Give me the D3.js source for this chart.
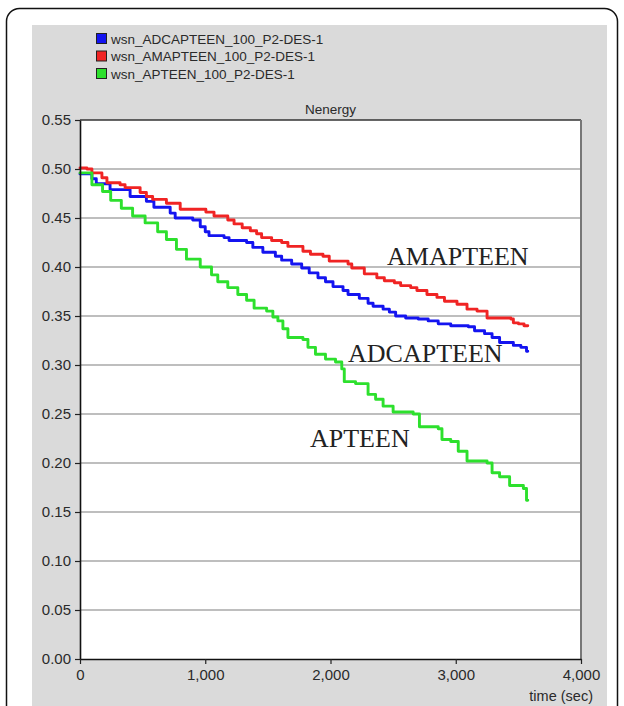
<!DOCTYPE html>
<html>
<head>
<meta charset="utf-8">
<script src="https://cdn.jsdelivr.net/npm/d3@7"></script>
<style>
  html, body { margin: 0; padding: 0; background: #ffffff; }
  svg { display: block; }
</style>
</head>
<body>
<svg id="chart" width="624" height="706"></svg>
<script>
// Normalised residual energy per protocol, sampled as step changes over simulation time (sec)
const seriesNames = ["wsn_ADCAPTEEN_100_P2-DES-1", "wsn_AMAPTEEN_100_P2-DES-1", "wsn_APTEEN_100_P2-DES-1"];
const seriesColors = ["#1414f0", "#f02424", "#2de02d"];
const curveLabels = ["ADCAPTEEN", "AMAPTEEN", "APTEEN"];

const adcapteenTime  = [0, 95, 130, 240, 400, 530, 590, 720, 760, 900, 960, 1000, 1030, 1150, 1190, 1330, 1380, 1460, 1560, 1610, 1690, 1770, 1830, 1900, 1960, 2020, 2100, 2140, 2230, 2300, 2340, 2420, 2470, 2520, 2600, 2700, 2780, 2860, 2960, 3100, 3150, 3230, 3290, 3350, 3460, 3520, 3565, 3575];
const adcapteenValue = [0.495, 0.490, 0.485, 0.479, 0.472, 0.467, 0.461, 0.455, 0.450, 0.448, 0.441, 0.436, 0.432, 0.430, 0.427, 0.425, 0.420, 0.415, 0.411, 0.407, 0.403, 0.399, 0.394, 0.389, 0.385, 0.380, 0.376, 0.372, 0.368, 0.363, 0.360, 0.357, 0.354, 0.350, 0.348, 0.347, 0.345, 0.342, 0.340, 0.339, 0.335, 0.332, 0.328, 0.323, 0.320, 0.318, 0.314, 0.314];

const amapteenTime  = [0, 55, 95, 175, 215, 320, 360, 480, 530, 580, 690, 800, 1005, 1070, 1180, 1230, 1295, 1360, 1410, 1450, 1530, 1610, 1660, 1780, 1840, 1940, 1990, 2140, 2170, 2270, 2370, 2430, 2510, 2560, 2640, 2690, 2770, 2850, 2910, 3010, 3090, 3170, 3250, 3440, 3460, 3500, 3545, 3575];
const amapteenValue = [0.501, 0.500, 0.496, 0.491, 0.486, 0.484, 0.481, 0.476, 0.472, 0.469, 0.465, 0.459, 0.456, 0.452, 0.448, 0.444, 0.440, 0.437, 0.434, 0.430, 0.427, 0.425, 0.421, 0.416, 0.413, 0.411, 0.406, 0.403, 0.399, 0.393, 0.389, 0.386, 0.384, 0.381, 0.379, 0.376, 0.372, 0.369, 0.365, 0.362, 0.357, 0.355, 0.348, 0.347, 0.343, 0.342, 0.340, 0.340];

const apteenTime  = [0, 95, 180, 245, 330, 420, 520, 620, 690, 770, 850, 960, 1050, 1100, 1180, 1260, 1330, 1390, 1490, 1540, 1580, 1620, 1660, 1780, 1820, 1880, 1960, 2040, 2090, 2110, 2200, 2300, 2360, 2420, 2500, 2660, 2710, 2860, 2890, 2960, 3020, 3090, 3250, 3290, 3350, 3430, 3540, 3565, 3575];
const apteenValue = [0.496, 0.484, 0.477, 0.468, 0.460, 0.452, 0.445, 0.436, 0.428, 0.418, 0.408, 0.400, 0.392, 0.385, 0.379, 0.372, 0.366, 0.358, 0.355, 0.349, 0.345, 0.337, 0.328, 0.326, 0.318, 0.311, 0.306, 0.303, 0.296, 0.283, 0.281, 0.270, 0.265, 0.258, 0.252, 0.250, 0.237, 0.235, 0.224, 0.222, 0.212, 0.202, 0.200, 0.190, 0.186, 0.177, 0.174, 0.162, 0.162];

const yTickValues = [0.00, 0.05, 0.10, 0.15, 0.20, 0.25, 0.30, 0.35, 0.40, 0.45, 0.50, 0.55];
const xTickValues = [0, 1000, 2000, 3000, 4000];
const chartTitle = "Nenergy";
const xAxisTitle = "time (sec)";

const series = [
  { name: seriesNames[0], color: seriesColors[0], label: curveLabels[0], time: adcapteenTime, value: adcapteenValue },
  { name: seriesNames[1], color: seriesColors[1], label: curveLabels[1], time: amapteenTime, value: amapteenValue },
  { name: seriesNames[2], color: seriesColors[2], label: curveLabels[2], time: apteenTime, value: apteenValue }
];

const svg = d3.select("#chart");
const plot = { left: 80, right: 581, top: 120, bottom: 659 };
const uiFont = "'Liberation Sans', Arial, sans-serif";

// Outer frame and grey panel
svg.append("rect")
  .attr("x", 32).attr("y", 25).attr("width", 575).attr("height", 700)
  .attr("fill", "#dadada");
svg.append("rect")
  .attr("x", 6.5).attr("y", 8.5).attr("width", 611).attr("height", 720)
  .attr("rx", 13).attr("ry", 13)
  .attr("fill", "none").attr("stroke", "#111").attr("stroke-width", 1.5);

const x = d3.scaleLinear().domain([0, 4000]).range([plot.left, plot.right]);
const y = d3.scaleLinear().domain([0, 0.55]).range([plot.bottom, plot.top]);

// Plot background
svg.append("rect")
  .attr("x", plot.left).attr("y", plot.top)
  .attr("width", plot.right - plot.left).attr("height", plot.bottom - plot.top)
  .attr("fill", "#ffffff");

// Horizontal grid
svg.append("g").selectAll("line")
  .data(yTickValues.filter(v => v > 0 && v < 0.55))
  .join("line")
  .attr("x1", plot.left).attr("x2", plot.right)
  .attr("y1", d => y(d)).attr("y2", d => y(d))
  .attr("stroke", "#a8a8a8").attr("stroke-width", 1.5);

// Top and right frame of the plot
svg.append("line")
  .attr("x1", plot.left).attr("x2", plot.right)
  .attr("y1", plot.top).attr("y2", plot.top)
  .attr("stroke", "#333").attr("stroke-width", 1.5);
svg.append("line")
  .attr("x1", plot.right).attr("x2", plot.right)
  .attr("y1", plot.top).attr("y2", plot.bottom)
  .attr("stroke", "#777").attr("stroke-width", 2);

// Series lines (step after each sample)
const line = d3.line()
  .x(d => x(d[0]))
  .y(d => y(d[1]))
  .curve(d3.curveStepAfter);

svg.append("g").selectAll("path")
  .data(series)
  .join("path")
  .attr("d", s => line(s.time.map((t, i) => [t, s.value[i]])))
  .attr("fill", "none")
  .attr("stroke", s => s.color)
  .attr("stroke-width", 2.9)
  .attr("stroke-linejoin", "round")
  .attr("stroke-linecap", "round");

// Axes
const yAxis = d3.axisLeft(y)
  .tickValues(yTickValues)
  .tickFormat(d3.format(".2f"))
  .tickSizeInner(5).tickSizeOuter(0).tickPadding(4);
const gy = svg.append("g").attr("transform", `translate(${plot.left},0)`).call(yAxis);

const xAxis = d3.axisBottom(x)
  .tickValues(xTickValues)
  .tickFormat(d3.format(","))
  .tickSizeInner(5).tickSizeOuter(0).tickPadding(5);
const gx = svg.append("g").attr("transform", `translate(0,${plot.bottom})`).call(xAxis);

[gy, gx].forEach(g => {
  g.select(".domain").attr("stroke", "#111").attr("stroke-width", 1.6);
  g.selectAll(".tick line").attr("stroke", "#222").attr("stroke-width", 1.2);
  g.selectAll(".tick text")
    .attr("fill", "#2a2a2a")
    .style("font-family", uiFont)
    .style("font-size", "15px");
});

// Titles
svg.append("text")
  .attr("x", (plot.left + plot.right) / 2).attr("y", 114)
  .attr("text-anchor", "middle")
  .attr("fill", "#2a2a2a")
  .style("font-family", uiFont)
  .style("font-size", "13.5px")
  .text(chartTitle);

svg.append("text")
  .attr("x", 593).attr("y", 701)
  .attr("text-anchor", "end")
  .attr("fill", "#2a2a2a")
  .style("font-family", uiFont)
  .style("font-size", "14.5px")
  .text(xAxisTitle);

// Legend
const legend = svg.append("g").attr("transform", "translate(96,33)");
const rows = legend.selectAll("g").data(series).join("g")
  .attr("transform", (d, i) => `translate(0,${i * 17.5})`);
rows.append("rect")
  .attr("x", 0.5).attr("y", 0.5).attr("width", 10).attr("height", 10)
  .attr("fill", d => d.color).attr("stroke", "#222").attr("stroke-width", 1);
rows.append("text")
  .attr("x", 15).attr("y", 10.5)
  .attr("fill", "#2a2a2a")
  .style("font-family", uiFont)
  .style("font-size", "13.5px")
  .text(d => d.name);

// Curve annotations
const labelPos = [
  { x: 348, y: 362 },
  { x: 387, y: 265 },
  { x: 310, y: 447 }
];
svg.append("g").selectAll("text")
  .data(series)
  .join("text")
  .attr("x", (d, i) => labelPos[i].x)
  .attr("y", (d, i) => labelPos[i].y)
  .attr("fill", "#222")
  .style("font-family", "'Liberation Serif', 'Times New Roman', serif")
  .style("font-size", "26px")
  .text(d => d.label);
</script>
</body>
</html>
